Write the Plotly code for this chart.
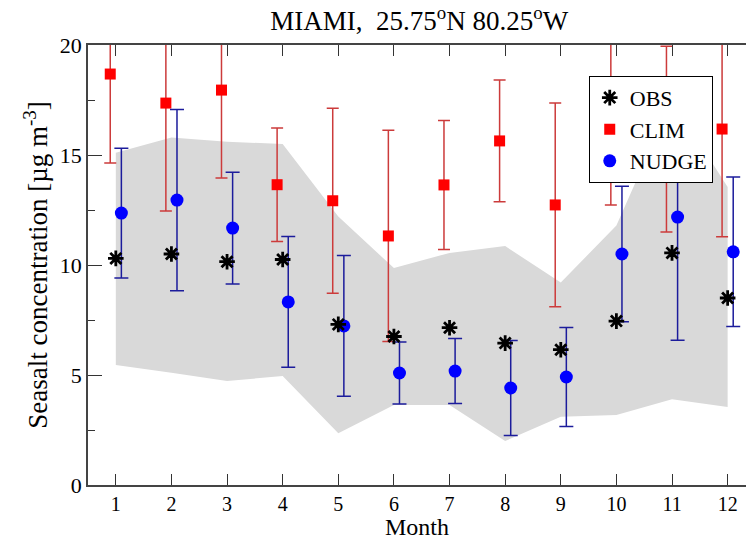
import plotly.graph_objects as go

# Monthly seasalt concentration at Miami (ug m-3)
months = [1, 2, 3, 4, 5, 6, 7, 8, 9, 10, 11, 12]

obs = [10.3, 10.5, 10.15, 10.25, 7.3, 6.75, 7.15, 6.45, 6.15, 7.45, 10.55, 8.5]

clim = [18.68, 17.36, 17.95, 13.65, 12.92, 11.32, 13.64, 15.64, 12.73, 17.0, 15.72, 16.18]
clim_err = [4.04, 4.9, 4.0, 2.58, 4.2, 4.8, 2.93, 2.77, 4.63, 4.27, 4.22, 4.9]

nudge = [12.36, 12.95, 11.68, 8.32, 7.23, 5.09, 5.18, 4.41, 4.91, 10.5, 12.18, 10.6]
nudge_err = [2.95, 4.12, 2.54, 2.97, 3.2, 1.41, 1.48, 2.16, 2.25, 3.08, 5.6, 3.4]

band_upper = [15.1, 15.8, 15.6, 15.5, 12.2, 9.86, 10.55, 10.86, 9.2, 11.8, 17.5, 13.55]
band_lower = [5.45, 5.1, 4.73, 4.95, 2.35, 3.64, 3.64, 2.0, 3.1, 3.18, 3.9, 3.55]

serif = "Liberation Serif, Times New Roman, serif"

fig = go.Figure()

# Model spread envelope
fig.add_trace(go.Scatter(
    x=months + months[::-1],
    y=band_upper + band_lower[::-1],
    fill="toself",
    fillcolor="#d9d9d9",
    line=dict(width=0),
    mode="lines",
    hoverinfo="skip",
    showlegend=False,
))

fig.add_trace(go.Scatter(
    x=[m - 0.1 for m in months],
    y=clim,
    mode="markers",
    name="CLIM",
    legendrank=2,
    marker=dict(symbol="square", size=11, color="#ff0000"),
    error_y=dict(type="data", array=clim_err, visible=True,
                 color="#cc3b3b", thickness=1.5, width=6),
))

fig.add_trace(go.Scatter(
    x=[m + 0.1 for m in months],
    y=nudge,
    mode="markers",
    name="NUDGE",
    legendrank=3,
    marker=dict(symbol="circle", size=13, color="#0000ff"),
    error_y=dict(type="data", array=nudge_err, visible=True,
                 color="#1c1c9c", thickness=1.5, width=7),
))

fig.add_trace(go.Scatter(
    x=months,
    y=obs,
    mode="markers",
    name="OBS",
    legendrank=1,
    marker=dict(symbol="asterisk-open", size=13, color="black",
                line=dict(width=2.8, color="black")),
))

fig.update_layout(
    width=746,
    height=539,
    margin=dict(l=88, r=0, t=45, b=54),
    paper_bgcolor="white",
    plot_bgcolor="white",
    font=dict(family=serif, size=22, color="black"),
    title=dict(
        text="MIAMI,\u00a0 25.75<sup>o</sup>N 80.25<sup>o</sup>W",
        x=0.562, xanchor="center", y=0.962, yanchor="middle",
        font=dict(family=serif, size=27),
    ),
    legend=dict(
        x=0.761, y=0.93, xanchor="left", yanchor="top",
        bgcolor="white", bordercolor="black", borderwidth=1,
        font=dict(family=serif, size=22),
        traceorder="normal",
        itemwidth=30,
        tracegroupgap=0,
    ),
    showlegend=True,
    annotations=[dict(
        text="Month", xref="paper", yref="paper",
        x=0.5, y=-0.0625, xanchor="center", yanchor="top",
        showarrow=False, borderpad=0, font=dict(family=serif, size=24),
    )],
)

fig.update_xaxes(
    range=[0.5, 12.33],
    tickmode="array",
    tickvals=months,
    ticktext=[str(m) for m in months],
    ticks="inside",
    ticklen=11,
    tickwidth=1,
    tickcolor="#333",
    showline=True,
    linecolor="#444",
    linewidth=1.5,
    mirror="ticks",
    showgrid=False,
    zeroline=False,
    tickfont=dict(family=serif, size=20),
)

fig.update_yaxes(
    range=[0, 20],
    tickvals=[0, 5, 10, 15, 20],
    ticks="inside",
    ticklen=14,
    tickwidth=1,
    tickcolor="#333",
    minor=dict(ticks="inside", ticklen=7, tickvals=[2.5, 7.5, 12.5, 17.5], tickcolor="#333"),
    showline=True,
    linecolor="#444",
    linewidth=1.5,
    showgrid=False,
    zeroline=False,
    tickfont=dict(family=serif, size=22),
    title=dict(text="Seasalt concentration [µg m<sup>-3</sup>]",
               font=dict(family=serif, size=27), standoff=4),
)

fig.write_html("out.html")
